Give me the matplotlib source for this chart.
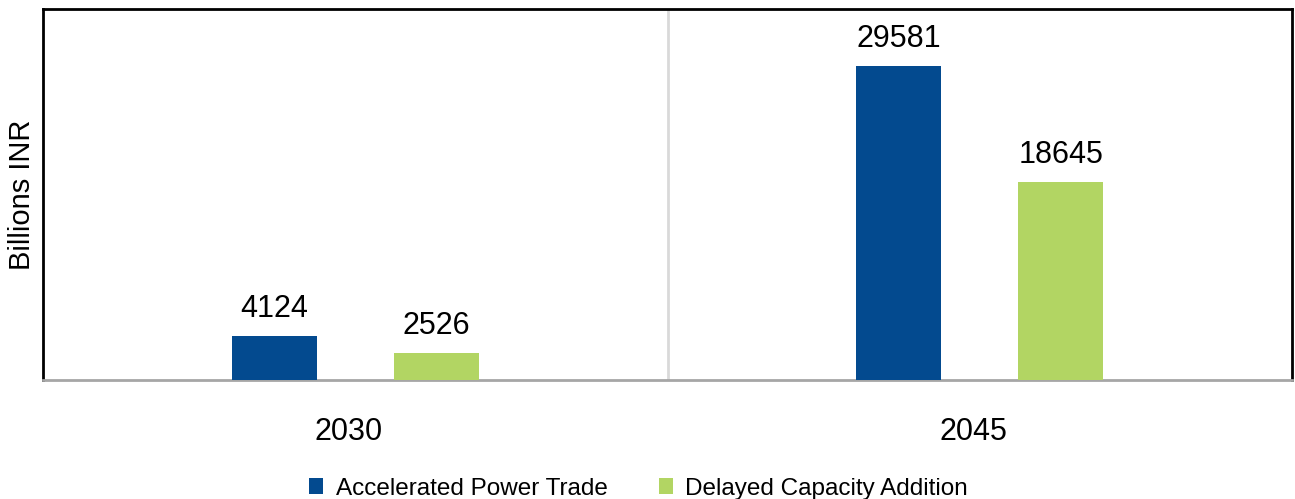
import matplotlib
matplotlib.use("Agg")
import matplotlib.pyplot as plt
import numpy as np

# data
years = ["2030", "2045"]
series_names = ["Accelerated Power Trade", "Delayed Capacity Addition"]
accelerated = [4124, 29581]
delayed = [2526, 18645]

BLUE = "#034A8F"
GREEN = "#B2D563"

plt.rcParams["font.family"] = ["Liberation Sans", "DejaVu Sans"]

fig = plt.figure(figsize=(12.95, 4.99), dpi=100)
ax = fig.add_axes([0.0332, 0.2385, 0.9645, 0.7435])

centers = np.arange(len(years)) + 0.5
width = 0.136
offset = 0.13

groups = [(accelerated, BLUE, -offset), (delayed, GREEN, offset)]
for (vals, color, dx), name in zip(groups, series_names):
    bars = ax.bar(centers + dx, vals, width, color=color, label=name, zorder=3)
    for b, v in zip(bars, vals):
        ax.annotate(str(v), (b.get_x() + b.get_width() / 2, b.get_height()),
                    xytext=(0, 9), textcoords="offset points",
                    ha="center", va="bottom", fontsize=22)

ax.set_xlim(0, len(years))
ax.set_ylim(0, 35000)
ax.axvline(1, color="#d9d9d9", lw=2, zorder=1)

ax.set_xticks(centers - 0.01)
ax.set_xticklabels(years, fontsize=22)
ax.tick_params(axis="x", length=0, pad=27)
ax.set_yticks([])
ax.set_ylabel("Billions INR", fontsize=21, labelpad=5)

for side in ("top", "left", "right"):
    ax.spines[side].set_color("black")
    ax.spines[side].set_linewidth(2)
ax.spines["bottom"].set_color("#a6a6a6")
ax.spines["bottom"].set_linewidth(2)

fig.legend(loc="lower center", bbox_to_anchor=(0.493, -0.045), ncol=2,
           frameon=False, fontsize=17.5, handlelength=0.6, handleheight=0.6,
           handletextpad=0.5, columnspacing=2.1)

fig.savefig("out.png", dpi=100)
